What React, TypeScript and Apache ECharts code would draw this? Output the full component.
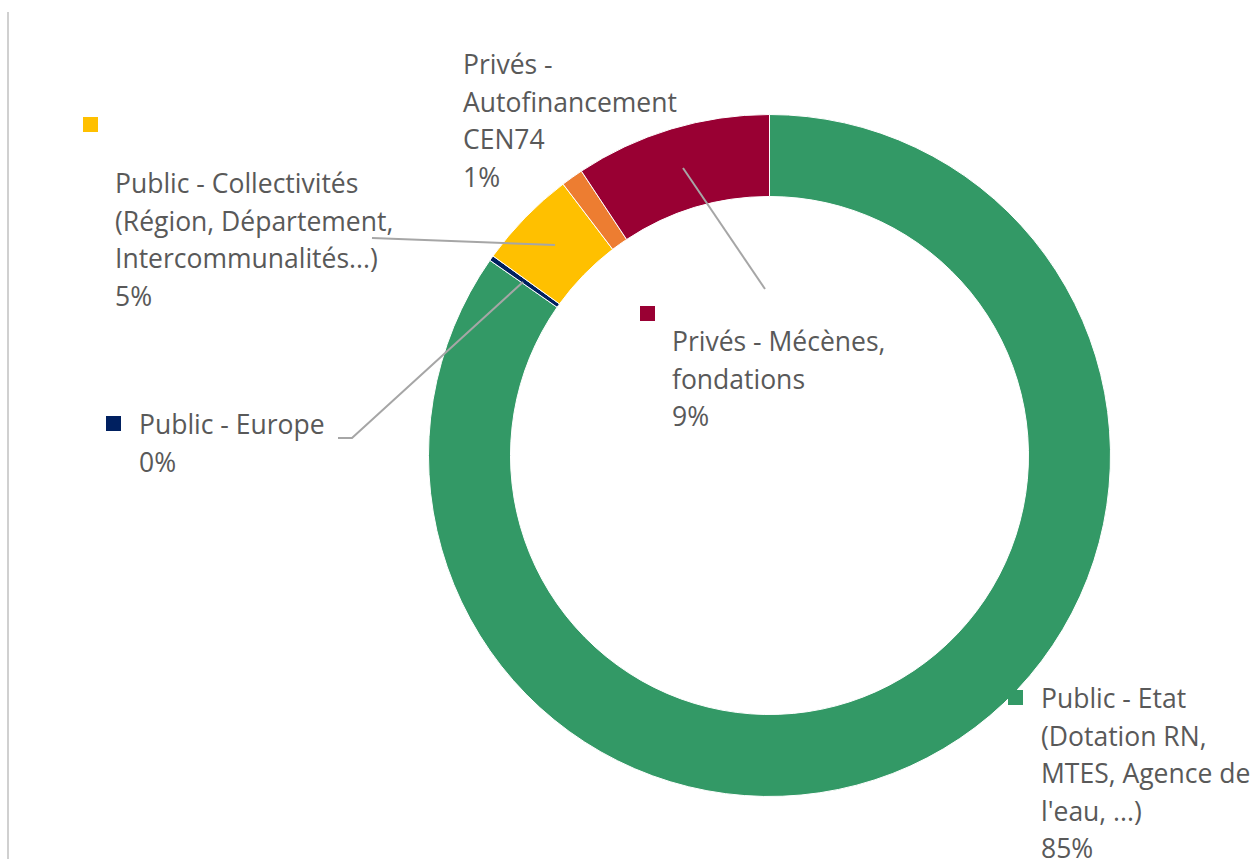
import React, { useEffect, useRef } from "react";
import * as echarts from "echarts";

const categories = [
  "Public - Etat\n(Dotation RN,\nMTES, Agence de\nl'eau, ...)",
  "Public - Europe",
  "Public - Collectivités\n(Région, Département,\nIntercommunalités...)",
  "Privés -\nAutofinancement\nCEN74",
  "Privés - Mécènes,\nfondations",
];
const values = [84.7, 0.25, 4.7, 1.05, 9.3];
const colors = ["#339966", "#002060", "#FFC000", "#ED7D31", "#990033"];

const FONT = "26.5px 'Open Sans', sans-serif";
const LH = 37.5;
const TEXT = "#595959";

export default function App() {
  const ref = useRef<HTMLDivElement>(null);
  useEffect(() => {
    document.body.style.margin = "0";
    const chart = echarts.init(ref.current!, undefined, { renderer: "svg" });
    const total = values.reduce((a, b) => a + b, 0);
    const pct = (i: number) => Math.round((values[i] / total) * 100) + "%";
    const label = (i: number, x: number, firstCenterY: number) => ({
      type: "text",
      x,
      y: firstCenterY - LH / 2,
      z: 100,
      style: {
        text: categories[i] + "\n" + pct(i),
        font: FONT,
        fill: TEXT,
        lineHeight: LH,
        textVerticalAlign: "top",
        textAlign: "left",
      },
    });
    const key = (i: number, x: number, y: number) => ({
      type: "rect",
      z: 100,
      shape: { x, y, width: 15, height: 15 },
      style: { fill: colors[i] },
    });
    const leader = (pts: number[][]) => ({
      type: "polyline",
      z: 100,
      shape: { points: pts },
      style: { stroke: "#a6a6a6", lineWidth: 2, fill: "none" },
    });
    chart.setOption({
      animation: false,
      backgroundColor: "#ffffff",
      series: [
        {
          type: "pie",
          center: [769.5, 455.5],
          radius: [259, 341],
          startAngle: 90,
          clockwise: true,
          label: { show: false },
          labelLine: { show: false },
          itemStyle: { borderColor: "#ffffff", borderWidth: 1 },
          data: categories.map((c, i) => ({
            name: c,
            value: values[i],
            itemStyle: { color: colors[i] },
          })),
        },
      ],
      graphic: [
        {
          type: "line",
          shape: { x1: 8, y1: 12, x2: 8, y2: 859 },
          style: { stroke: "#d0d0d0", lineWidth: 2 },
        },
        leader([[372, 238], [555, 245]]),
        leader([[338, 438], [352, 438], [523, 282]]),
        leader([[683, 168], [765, 289]]),
        key(2, 83, 117),
        label(2, 115, 183),
        label(3, 463, 64),
        key(1, 106, 416),
        label(1, 139, 424),
        key(4, 640, 306),
        label(4, 672, 341),
        key(0, 1008, 690),
        label(0, 1041, 698),
      ],
    });
    return () => chart.dispose();
  }, []);
  return <div ref={ref} style={{ width: 1258, height: 859 }} />;
}
